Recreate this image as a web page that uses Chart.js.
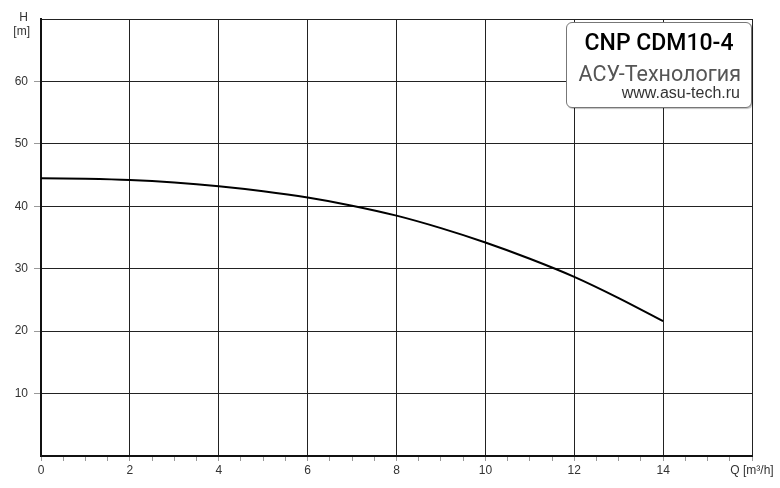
<!DOCTYPE html>
<html>
<head>
<meta charset="utf-8">
<script src="https://cdn.jsdelivr.net/npm/chart.js@4/dist/chart.umd.min.js"></script>
<style>
  body { margin: 0; background: #fff; }
  #wrap { position: relative; width: 780px; height: 488px; }
  #badge {
    position: absolute; left: 566px; top: 22px; width: 184px; height: 84px;
    background: #fff; border: 1px solid #777; border-radius: 6px;
    box-shadow: 1px 1px 1px rgba(0,0,0,0.25);
    font-family: "Liberation Sans", Arial, sans-serif;
  }
  #badge .t1 { position: absolute; left: 0; right: 0; top: 6px; text-align: center; font-family: Roboto, sans-serif; font-weight: 500; font-size: 23px; color: #000; }
  #badge .t2 { position: absolute; left: 0; right: 10px; top: 38px; text-align: right; font-family: Roboto, sans-serif; font-size: 21.5px; color: #555; }
  #badge .t3 { position: absolute; left: 0; right: 11px; top: 61px; text-align: right; font-size: 16px; color: #333; }
  #hlab { position: absolute; left: 5px; top: 10px; width: 25px; text-align: right; font-family: "Liberation Sans", Arial, sans-serif; font-size: 12px; line-height: 14px; color: #333; }
</style>
</head>
<body>
<div id="wrap">
  <canvas id="pumpChart" width="780" height="488"></canvas>
  <div id="hlab"><div style="padding-right:2px">H</div><div>[m]</div></div>
  <div id="badge">
    <div class="t1">CNP CDM10-4</div>
    <div class="t2">АСУ-Технология</div>
    <div class="t3">www.asu-tech.ru</div>
  </div>
</div>
<script>
// flow Q [m3/h] and head H [m]
const flow = [0, 1, 2, 3, 4, 5, 6, 7, 8, 9, 10, 11, 12, 13, 14];
const head = [44.5, 44.4, 44.2, 43.8, 43.2, 42.4, 41.4, 40.1, 38.5, 36.5, 34.2, 31.6, 28.7, 25.3, 21.6];
const xMax = 16;
const yMax = 70;
const xLabel = "Q [m³/h]";

const points = flow.map((q, i) => ({ x: q, y: head[i] }));

const ctx = document.getElementById("pumpChart");
new Chart(ctx, {
  type: "line",
  data: {
    datasets: [
      {
        data: points,
        borderColor: "#000",
        borderWidth: 2,
        pointRadius: 0,
        tension: 0.3,
        fill: false,
      },
    ],
  },
  options: {
    responsive: false,
    animation: false,
    devicePixelRatio: 1,
    layout: { padding: { top: 19, right: 28, left: 0, bottom: 0 } },
    plugins: { legend: { display: false }, tooltip: { enabled: false } },
    scales: {
      x: {
        type: "linear",
        min: 0,
        max: xMax,
        afterFit: (s) => { s.height = 32; },
        border: { color: "#111", width: 2 },
        grid: {
          color: (c) => (c.tick && c.tick.value % 2 === 0 ? "#222" : "transparent"),
          tickColor: "#999",
          tickLength: 5,
          lineWidth: 1,
        },
        ticks: {
          stepSize: 0.5,
          autoSkip: false,
          maxRotation: 0,
          padding: 2,
          color: "#333",
          font: { family: "Liberation Sans", size: 12 },
          callback: (v) => (v % 2 !== 0 ? "" : v === xMax ? xLabel : v),
        },
      },
      y: {
        min: 0,
        max: yMax,
        afterFit: (s) => { s.width = 41; },
        border: { color: "#111", width: 2 },
        grid: {
          color: "#222",
          tickColor: (c) => (c.tick && (c.tick.value === 0 || c.tick.value === yMax) ? "transparent" : "#999"),
          tickLength: 7,
          lineWidth: 1,
        },
        ticks: {
          stepSize: 10,
          padding: 6,
          color: "#333",
          font: { family: "Liberation Sans", size: 12 },
          callback: (v) => (v === 0 || v === yMax ? "" : v),
        },
      },
    },
  },
});
</script>
</body>
</html>
